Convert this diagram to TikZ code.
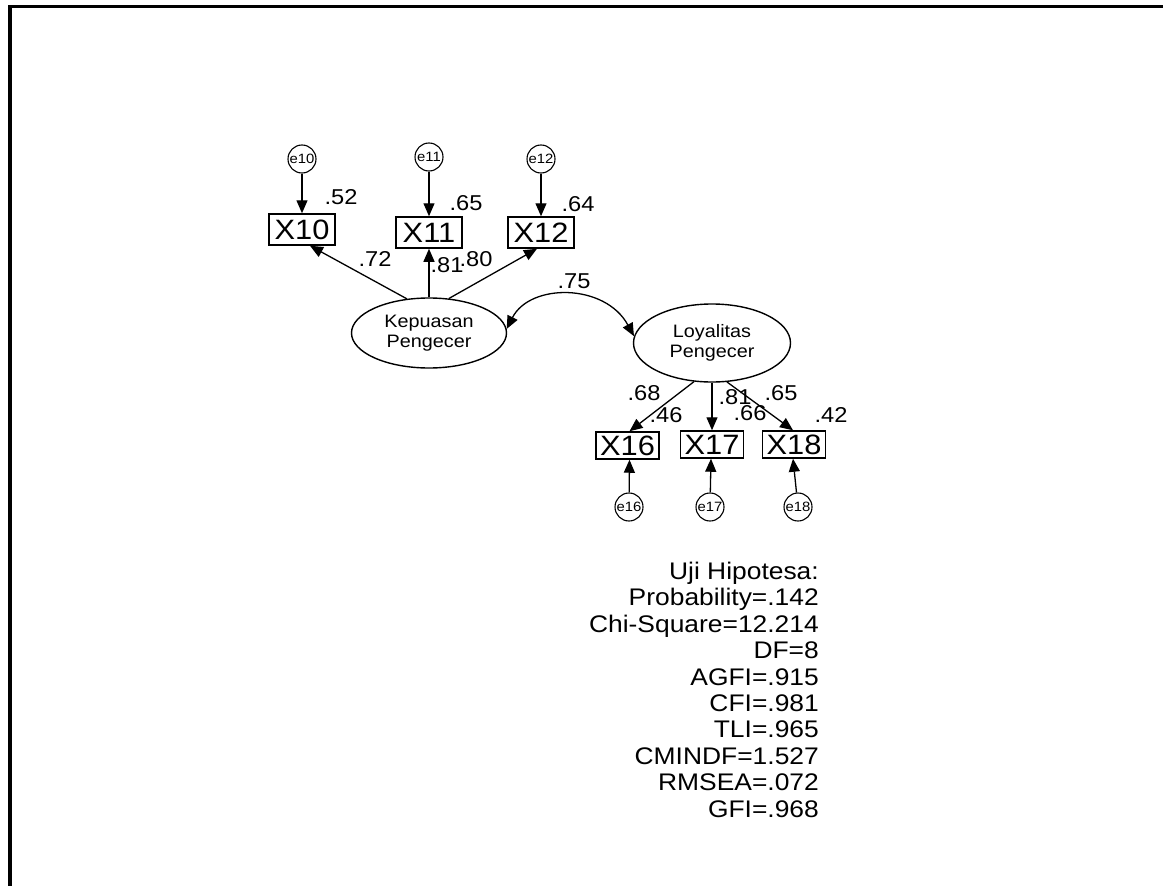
\documentclass[tikz,border=0pt]{standalone}
\usepackage{fontspec}
\setmainfont{Liberation Sans}[FakeStretch=1.1]
\usetikzlibrary{arrows.meta,calc,shapes.geometric}
\tikzset{
  arr/.style={line width=1.3pt,-{Triangle[length=13pt,width=11pt]}},
  cov/.style={line width=1.3pt,{Triangle[length=13pt,width=11pt]}-{Triangle[length=13pt,width=11pt]}},
  obs/.style={draw,line width=1.5pt,inner sep=0pt,minimum width=66pt,minimum height=31pt,font=\fontsize{28}{30}\selectfont},
  obsb/.style={obs,minimum width=63pt,minimum height=27pt},
  err/.style={draw,circle,line width=1.1pt,inner sep=0pt,minimum size=28pt,font=\fontsize{13.5}{14}\selectfont},
  lat/.style={draw,ellipse,line width=1.4pt,inner sep=0pt,align=center,font=\fontsize{18}{20.5}\selectfont},
  num/.style={inner sep=0pt,font=\fontsize{21.5}{22}\selectfont},
}
\begin{document}
\begin{tikzpicture}[x=1pt,y=-1pt]
\useasboundingbox (0,0) rectangle (1163,886);
% frame
\draw[line width=3.5pt] (10,886) -- (10,6.5) -- (1163,6.5);
% latent variables
\node[lat,minimum width=155pt,minimum height=70pt] (K) at (429,333) {Kepuasan\\Pengecer};
\node[lat,minimum width=157pt,minimum height=78pt] (L) at (712,343) {Loyalitas\\Pengecer};
% observed
\node[obs] (X10) at (302,229.5) {X10};
\node[obs] (X11) at (429,232.5) {X11};
\node[obs] (X12) at (541,232.5) {X12};
\node[obsb] (X16) at (627.5,445.5) {X16};
\node[obsb] (X17) at (712,444.5) {X17};
\node[obsb] (X18) at (794,444.5) {X18};
% errors
\node[err] (e10) at (302,159) {e10};
\node[err] (e11) at (429,157) {e11};
\node[err] (e12) at (541,159) {e12};
\node[err] (e16) at (629,507) {e16};
\node[err] (e17) at (710,507) {e17};
\node[err] (e18) at (798,507) {e18};
% error arrows
\draw[arr] (e10) -- (X10);
\draw[arr] (e11) -- (X11);
\draw[arr] (e12) -- (X12);
\draw[arr] (e16) -- ($(X16.south)+(2,0)$);
\draw[arr] (e17) -- ($(X17.south)+(-1,0)$);
\draw[arr] (e18) -- ($(X18.south)+(-1,0)$);
% loadings
\draw[arr] (K.123) -- ($(X10.south)+(8,0)$);
\draw[arr] (K.north) -- (X11.south);
\draw[arr] (K.60) -- ($(X12.south)+(-4,0)$);
\draw[arr] (L.-115) -- ($(X16.north)+(2,0)$);
\draw[arr] (L.south) -- (X17.north);
\draw[arr] (L.-69) -- ($(X18.north)+(-1,0)$);
% covariance
\coordinate (c1) at (530,283);
\coordinate (c2) at (605,283);
\draw[cov] (K.3) .. controls (c1) and (c2) .. (L.175);
% numbers
\node[num] (n52) at (341,197) {.52};
\node[num] (n65) at (466,203) {.65};
\node[num] (n64) at (578,204) {.64};
\node[num] (n72) at (375,259) {.72};
\node[num] (n80) at (476,259) {.80};
\node[num] (n81) at (447,265) {.81};
\node[num] (n75) at (574,281) {.75};
\node[num] (n68) at (644,393) {.68};
\node[num] (n46) at (666,415) {.46};
\node[num] (n81b) at (735,397) {.81};
\node[num] (n66) at (750,413) {.66};
\node[num] (n65b) at (781,393) {.65};
\node[num] (n42) at (831,415) {.42};
% fit statistics
\node[anchor=north east,inner sep=0pt,align=right,font=\fontsize{24}{26.4}\selectfont] (fit) at (819,562)
{Uji Hipotesa:\\Probability=.142\\Chi-Square=12.214\\DF=8\\AGFI=.915\\CFI=.981\\TLI=.965\\CMINDF=1.527\\RMSEA=.072\\GFI=.968};
\end{tikzpicture}
\end{document}
